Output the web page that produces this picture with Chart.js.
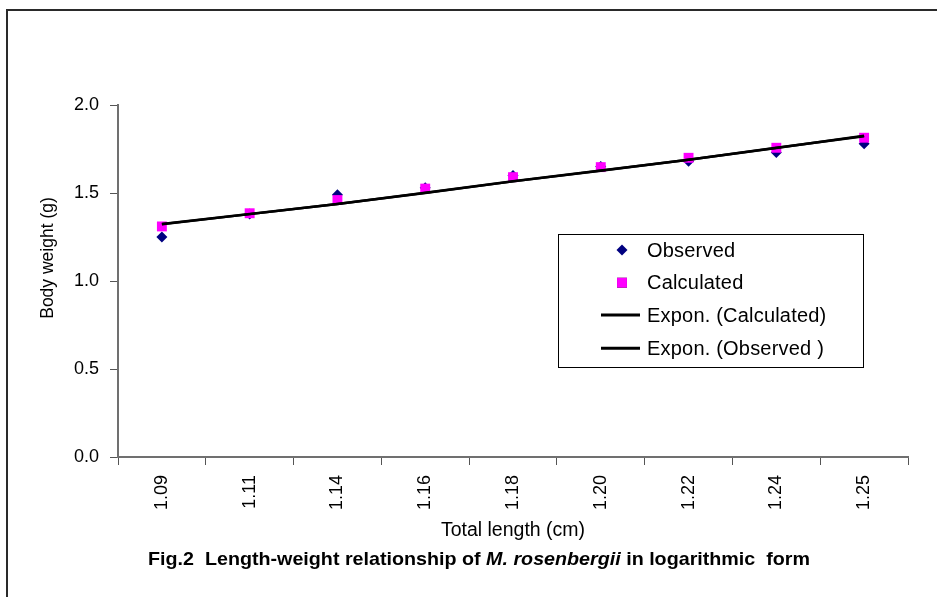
<!DOCTYPE html>
<html>
<head>
<meta charset="utf-8">
<script src="https://cdn.jsdelivr.net/npm/chart.js@4/dist/chart.umd.min.js"></script>
<style>
  html, body { margin: 0; padding: 0; background: #ffffff; }
  #wrap { width: 937px; height: 597px; position: relative; }
</style>
</head>
<body>
<div id="wrap"><canvas id="c" width="937" height="597"></canvas></div>
<script>
// ---- data ----
const categories = ['1.09', '1.11', '1.14', '1.16', '1.18', '1.20', '1.22', '1.24', '1.25'];
const observed = [1.25, 1.38, 1.49, 1.53, 1.60, 1.65, 1.68, 1.73, 1.78];
const calculated = [1.31, 1.385, 1.46, 1.525, 1.59, 1.647, 1.70, 1.757, 1.814];
const trendCalculated = [1.324, 1.381, 1.438, 1.501, 1.567, 1.628, 1.689, 1.757, 1.823];
const trendObserved = [1.322, 1.380, 1.438, 1.500, 1.566, 1.627, 1.689, 1.756, 1.825];
const yTickValues = [0, 0.5, 1.0, 1.5, 2.0];
const seriesLabels = ['Observed', 'Calculated', 'Expon. (Calculated)', 'Expon. (Observed )'];
const xAxisTitle = 'Total length (cm)';
const yAxisTitle = 'Body weight (g)';
const figTitleParts = [
  { text: 'Fig.2  Length-weight relationship of ', italic: false },
  { text: 'M. rosenbergii', italic: true },
  { text: ' in logarithmic  form', italic: false }
];

const FONT = "'Liberation Sans', Arial, Helvetica, sans-serif";
Chart.defaults.font.family = FONT;
Chart.defaults.color = '#000';

const decor = {
  id: 'decor',
  afterDraw(chart) {
    const { ctx, chartArea: ca } = chart;
    ctx.save();
    // outer frame (top and left edges visible)
    ctx.strokeStyle = '#2a2a2a';
    ctx.lineWidth = 2;
    ctx.beginPath();
    ctx.moveTo(7, chart.height + 5);
    ctx.lineTo(7, 10);
    ctx.lineTo(chart.width + 5, 10);
    ctx.stroke();

    // y axis title
    ctx.fillStyle = '#000';
    ctx.font = '17.5px ' + FONT;
    ctx.textAlign = 'center';
    ctx.textBaseline = 'middle';
    ctx.save();
    ctx.translate(48, ca.top + 153);
    ctx.rotate(-Math.PI / 2);
    ctx.fillText(yAxisTitle, 0, 0);
    ctx.restore();

    // x axis title
    ctx.font = '19.5px ' + FONT;
    ctx.textBaseline = 'alphabetic';
    ctx.fillText(xAxisTitle, (ca.left + ca.right) / 2, 536);

    // figure title (bold, with italic species name), fitted to its width
    const targetLeft = 148, targetWidth = 662, baseY = 565;
    const fonts = figTitleParts.map(p => (p.italic ? 'italic ' : '') + 'bold 18.5px ' + FONT);
    let total = 0;
    const widths = figTitleParts.map((p, i) => { ctx.font = fonts[i]; const w = ctx.measureText(p.text).width; total += w; return w; });
    const sx = targetWidth / total;
    ctx.save();
    ctx.translate(targetLeft, baseY);
    ctx.scale(sx, 1);
    ctx.textAlign = 'left';
    let x = 0;
    figTitleParts.forEach((p, i) => { ctx.font = fonts[i]; ctx.fillText(p.text, x, 0); x += widths[i]; });
    ctx.restore();

    // legend box
    const lx = ca.left + 440, ly = ca.top + 129, lw = 305, lh = 133;
    ctx.fillStyle = '#fff';
    ctx.fillRect(lx, ly, lw, lh);
    ctx.strokeStyle = '#000';
    ctx.lineWidth = 1;
    ctx.strokeRect(lx + 0.5, ly + 0.5, lw, lh);
    const rowY = [16, 48.7, 81, 114.3];
    chart.data.datasets.forEach((ds, i) => {
      const cy = ly + rowY[i];
      if (ds.showLine === false) {
        Chart.helpers.drawPoint(ctx, {
          pointStyle: ds.pointStyle, radius: ds.legendRadius, rotation: 0, borderWidth: 0
        }, lx + 64, cy);
        ctx.fillStyle = ds.backgroundColor;
        ctx.fill();
      } else {
        ctx.strokeStyle = ds.borderColor;
        ctx.lineWidth = 3;
        ctx.beginPath();
        ctx.moveTo(lx + 43, cy);
        ctx.lineTo(lx + 82, cy);
        ctx.stroke();
      }
      ctx.fillStyle = '#000';
      ctx.font = '20px ' + FONT;
      try { ctx.letterSpacing = '0.2px'; } catch (e) {}
      ctx.textAlign = 'left';
      ctx.textBaseline = 'middle';
      ctx.fillText(ds.label, lx + 89, cy + 1);
      try { ctx.letterSpacing = '0px'; } catch (e) {}
    });
    ctx.restore();
  }
};

new Chart(document.getElementById('c'), {
  type: 'line',
  data: {
    labels: categories,
    datasets: [
      {
        label: seriesLabels[0], data: observed, showLine: false,
        pointStyle: 'rectRot', pointRadius: 5.5, legendRadius: 5.5,
        backgroundColor: '#000080', borderColor: '#000080', pointBorderWidth: 0, order: 2
      },
      {
        label: seriesLabels[1], data: calculated, showLine: false,
        pointStyle: 'rect', pointRadius: 7, legendRadius: 7,
        backgroundColor: '#FF00FF', borderColor: '#FF00FF', pointBorderWidth: 0, order: 1
      },
      {
        label: seriesLabels[2], data: trendCalculated, borderColor: '#000',
        backgroundColor: '#000', borderWidth: 2.5, pointRadius: 0, fill: false, order: 0
      },
      {
        label: seriesLabels[3], data: trendObserved, borderColor: '#000',
        backgroundColor: '#000', borderWidth: 2.5, pointRadius: 0, fill: false, order: 0
      }
    ]
  },
  options: {
    responsive: false,
    animation: false,
    devicePixelRatio: 1,
    layout: { padding: { left: 0, top: 105, right: 29, bottom: 0 } },
    plugins: { legend: { display: false }, tooltip: { enabled: false }, title: { display: false } },
    scales: {
      x: {
        type: 'category',
        offset: true,
        grid: { display: true, offset: true, drawOnChartArea: false, drawTicks: true, tickLength: 8, color: '#555', lineWidth: 1 },
        border: { display: true, color: '#707070', width: 2 },
        ticks: { minRotation: 90, maxRotation: 90, autoSkip: false, padding: 10, font: { size: 18 }, color: '#000' },
        afterFit(scale) { scale.height = 597 - 457; }
      },
      y: {
        min: 0, max: 2,
        afterBuildTicks(scale) { scale.ticks = yTickValues.map(v => ({ value: v })); },
        grid: { display: true, drawOnChartArea: false, drawTicks: true, tickLength: 8, color: '#555', lineWidth: 1 },
        border: { display: true, color: '#707070', width: 2 },
        ticks: { padding: 11, font: { size: 18 }, color: '#000', callback: v => Number(v).toFixed(1) },
        afterFit(scale) { scale.width = 118; }
      }
    }
  },
  plugins: [decor]
});
</script>
</body>
</html>
